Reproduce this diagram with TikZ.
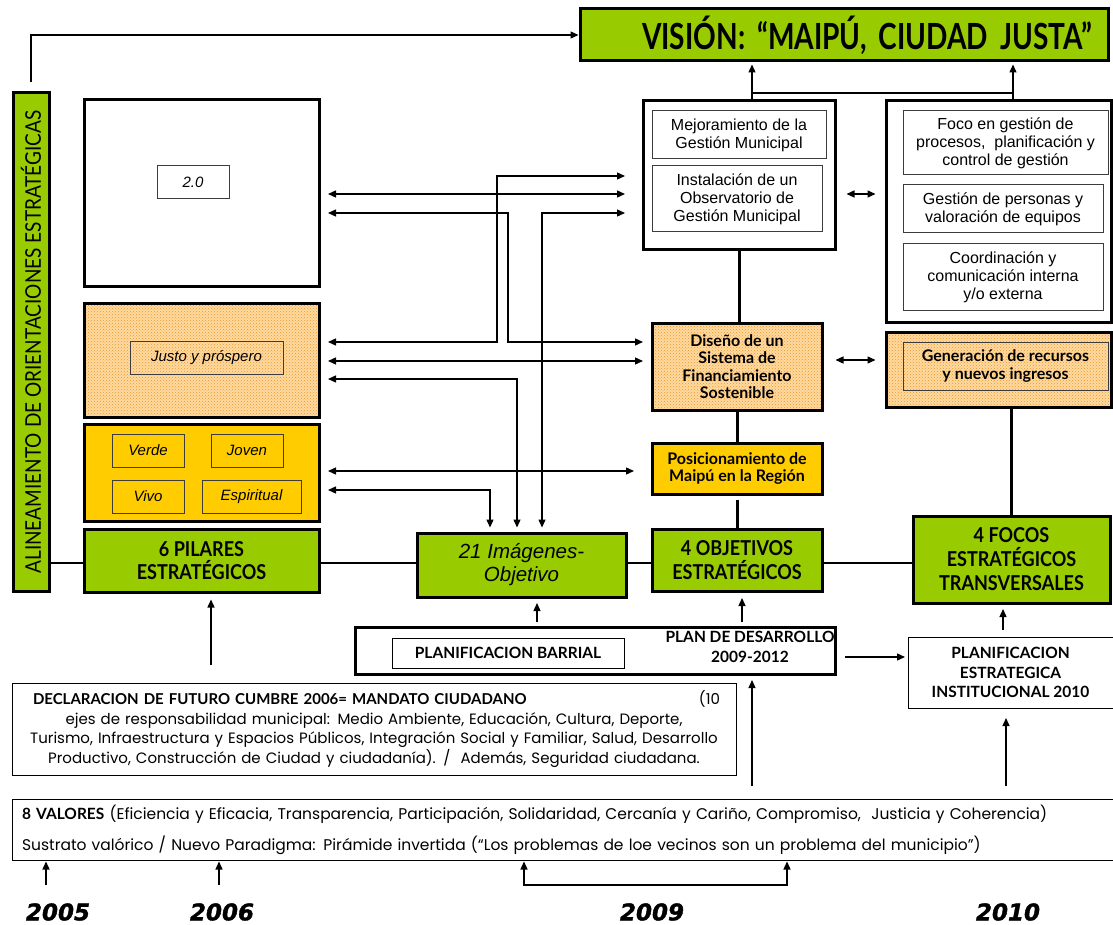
\documentclass[tikz,border=0pt]{standalone}
\usepackage{fontspec}
\usepackage{graphicx}
\setmainfont{Liberation Sans}
\newfontfamily\tw[FakeStretch=0.88]{Lato}
\newfontfamily\twv[FakeStretch=0.78]{Lato}
\newfontfamily\twn{Lato}
\newfontfamily\cg{Poppins}
\newfontfamily\yr[BoldItalicFeatures={FakeBold=1.5}]{DejaVu Sans}
\usetikzlibrary{arrows.meta,patterns}
\definecolor{vgreen}{RGB}{153,204,0}
\definecolor{vyellow}{RGB}{255,204,0}
\definecolor{dotorange}{RGB}{240,150,40}
\definecolor{dotbg}{RGB}{255,218,160}
\definecolor{inline}{RGB}{60,60,60}
\newcommand{\fsz}[2]{\fontsize{#1}{#2}\selectfont}

\begin{document}
\begin{tikzpicture}[x=1pt, y=-1pt, >={Triangle[length=8pt,width=7pt]},
	fat/.style={draw, line width=3pt, inner sep=0pt, align=center},
	greenbox/.style={fat, fill=vgreen},
	yelbox/.style={fat, fill=vyellow},
	dotbox/.style={fat, preaction={fill=dotbg}, pattern=crosshatch dots, pattern color=dotorange},
	box/.style={draw, line width=1pt, inner sep=0pt, align=center},
	ibox/.style={box, draw=inline},
	conn/.style={line width=1.3pt},
	bar/.style={line width=3pt},
	arial/.style={font=\fsz{16}{18}},
	ital/.style={font=\itshape\fsz{15}{18}},
	twtxt/.style={font=\twn\bfseries\fsz{16}{17.5}},
	caps/.style={font=\twn\bfseries\fsz{15.5}{20}},
	title/.style={font=\tw\bfseries\fsz{20.5}{23.5}}]
	\useasboundingbox (0,0) rectangle (1113,925);

	%vision and left bar
	\node[greenbox, minimum width=528pt, minimum height=52pt, text width=496pt, inner xsep=16pt, align=right, font=\twv\bfseries\fsz{36}{40}] (vis) at (844,35) {VISIÓN: “MAIPÚ, CIUDAD JUSTA”};
	\node[greenbox, minimum width=36pt, minimum height=498pt, font=\tw\fsz{21.6}{24}] (ali) at (31,342) {\rotatebox{90}{ALINEAMIENTO DE ORIENTACIONES ESTRATÉGICAS}};

	%pilares column
	\node[fat, minimum width=235pt, minimum height=186pt] (b20) at (201.5,193) {};
	\node[ibox, minimum width=72pt, minimum height=33pt, ital] (i20) at (193,182.5) {2.0};
	\node[dotbox, minimum width=235pt, minimum height=114pt] (bjus) at (201.5,360) {};
	\node[ibox, minimum width=153pt, minimum height=33pt, ital] (ijus) at (206.5,357.5) {Justo y próspero};
	\node[yelbox, minimum width=235pt, minimum height=97pt] (bvvj) at (201.5,472.5) {};
	\node[ibox, minimum width=72pt, minimum height=33pt, ital] (verde) at (148,450.5) {Verde};
	\node[ibox, minimum width=72pt, minimum height=33pt, ital] (joven) at (247,450.5) {Joven};
	\node[ibox, minimum width=72pt, minimum height=33pt, ital] (vivo) at (148,496.5) {Vivo};
	\node[ibox, minimum width=99pt, minimum height=33pt, ital] (espi) at (251.5,496.5) {Espiritual};
	\node[greenbox, minimum width=235pt, minimum height=63pt, title] (pil) at (201.5,560.5) {6 PILARES\\ESTRATÉGICOS};

	%middle row
	\node[greenbox, minimum width=209pt, minimum height=64pt, font=\itshape\fsz{20.5}{23}] (img) at (521.5,565) {21 Imágenes-\\Objetivo};
	\node[greenbox, minimum width=170pt, minimum height=62pt, title] (obj) at (737,560) {4 OBJETIVOS\\ESTRATÉGICOS};
	\node[greenbox, minimum width=197pt, minimum height=87pt, font=\tw\bfseries\fsz{20.5}{24}] (foc) at (1011.5,559.5) {4 FOCOS\\ESTRATÉGICOS\\TRANSVERSALES};

	%objetivos column
	\node[fat, minimum width=192pt, minimum height=149pt] (mej) at (739,175.5) {};
	\node[ibox, minimum width=174pt, minimum height=48pt, arial] (m1) at (739,135) {Mejoramiento de la\\Gestión Municipal};
	\node[ibox, minimum width=170pt, minimum height=66pt, arial] (m2) at (737,199) {Instalación de un\\Observatorio de\\Gestión Municipal};
	\node[dotbox, minimum width=170pt, minimum height=87pt, twtxt] (dis) at (737,366.5) {Diseño de un\\Sistema de\\Financiamiento\\Sostenible};
	\node[yelbox, minimum width=170pt, minimum height=51pt, twtxt] (pos) at (737,468.5) {Posicionamiento de\\Maipú en la Región};

	%focos column
	\node[fat, minimum width=225pt, minimum height=221pt] (fgr) at (998.5,211.5) {};
	\node[ibox, minimum width=205pt, minimum height=64pt, arial] (f1) at (1005.5,143) {Foco en gestión de\\procesos,\ \ planificación y\\control de gestión};
	\node[ibox, minimum width=200pt, minimum height=48pt, arial] (f2) at (1003,209) {Gestión de personas y\\valoración de equipos};
	\node[ibox, minimum width=200pt, minimum height=66pt, arial] (f3) at (1003,277) {Coordinación y\\comunicación interna\\y/o externa};
	\node[dotbox, minimum width=225pt, minimum height=75pt] (gen) at (998.5,369.5) {};
	\node[ibox, minimum width=205pt, minimum height=48pt, twtxt] (gi) at (1005.5,366) {Generación de recursos\\y nuevos ingresos};

	%planning boxes
	\node[fat, minimum width=480pt, minimum height=47pt] (plan) at (595,650.5) {};
	\node[box, minimum width=232pt, minimum height=30pt, caps] (pb) at (508,653) {PLANIFICACION BARRIAL};
	\node[caps, align=center] (plant) at (750,647) {PLAN DE DESARROLLO\\2009-2012};
	\node[box, minimum width=205pt, minimum height=71pt, font=\twn\bfseries\fsz{15.5}{19.5}] (pei) at (1010.5,672.5) {PLANIFICACION\\ESTRATEGICA\\INSTITUCIONAL 2010};
	\node[box, minimum width=724pt, minimum height=92pt, text width=692pt, inner xsep=16pt, font=\cg\fsz{15}{19.7}] (dec) at (374,729) {\hspace*{5pt}{\twn\bfseries\fsz{15}{19.7}DECLARACION DE FUTURO CUMBRE 2006= MANDATO CIUDADANO}\hfill(10\hspace*{16pt}\\ejes de responsabilidad municipal: Medio Ambiente, Educación, Cultura, Deporte,\\Turismo, Infraestructura y Espacios Públicos, Integración Social y Familiar, Salud, Desarrollo\\Productivo, Construcción de Ciudad y ciudadanía). /\ \ Además, Seguridad ciudadana.};
	\node[box, minimum width=1101pt, minimum height=61pt, text width=1081pt, inner xsep=10pt, align=left, font=\cg\fsz{15.5}{31}] (val) at (562.5,829.5) {{\twn\bfseries\fsz{15.5}{31}8 VALORES} (Eficiencia y Eficacia, Transparencia, Participación, Solidaridad, Cercanía y Cariño, Compromiso,\ \ Justicia y Coherencia)\\Sustrato valórico / Nuevo Paradigma: Pirámide invertida (“Los problemas de loe vecinos son un problema del municipio”)};

	%years
	\node[font=\yr\bfseries\itshape\fsz{23}{23}] (y05) at (58,912) {2005};
	\node[font=\yr\bfseries\itshape\fsz{23}{23}] (y06) at (222,912) {2006};
	\node[font=\yr\bfseries\itshape\fsz{23}{23}] (y09) at (652,912) {2009};
	\node[font=\yr\bfseries\itshape\fsz{23}{23}] (y10) at (1008,912) {2010};
	\coordinate (c05) at (46,885);
	\coordinate (c06) at (219,885);
	\coordinate (c6p) at (211,665);

	%top links
	\draw[conn,->,shorten <=9pt] (ali.north) |- (vis.west);
	\coordinate (tl) at (752,93);
	\coordinate (tr) at (1013,93);
	\draw[conn] (mej.north -| tl) -- (tl) -- (tr) -- (fgr.north -| tr);
	\draw[conn,->,shorten >=2pt] (tl) -- (vis.south -| tl);
	\draw[conn,->,shorten >=2pt] (tr) -- (vis.south -| tr);
	\draw[conn,<->,shorten <=10pt,shorten >=9pt] (mej.east |- 0,194) -- (fgr.west |- 0,194);
	\draw[conn,<->,shorten <=12pt,shorten >=9pt] (dis.east |- 0,360) -- (gen.west |- 0,360);

	%crossing arrows
	\draw[conn,<->,shorten <=16.5pt,shorten >=7.5pt] (mej.west |- 0,176) -| (497,342) -- (bjus.east |- 0,342);
	\draw[conn,<->,shorten <=7.5pt,shorten >=16.5pt] (b20.east |- 0,194) -- (mej.west |- 0,194);
	\draw[conn,<->,shorten <=7.5pt,shorten >=7.5pt] (b20.east |- 0,213) -| (508,342) -- (dis.west |- 0,342);
	\draw[conn,<->,shorten <=16.5pt,shorten >=4pt] (mej.west |- 0,213) -| (img.north -| 542,0);
	\draw[conn,<->,shorten <=7.5pt,shorten >=7.5pt] (bjus.east |- 0,361) -- (dis.west |- 0,361);
	\draw[conn,<->,shorten <=7.5pt,shorten >=4pt] (bjus.east |- 0,379) -| (img.north -| 517,0);
	\draw[conn,<->,shorten <=7.5pt,shorten >=16.5pt] (bvvj.east |- 0,471) -- (pos.west |- 0,471);
	\draw[conn,<->,shorten <=7.5pt,shorten >=4pt] (bvvj.east |- 0,490) -| (img.north -| 490,0);

	%main row line
	\draw[conn] (ali.east |- 0,563) -- (pil.west |- 0,563);
	\draw[conn] (pil.east |- 0,563) -- (img.west |- 0,563);
	\draw[conn] (img.east |- 0,563) -- (obj.west |- 0,563);
	\draw[conn] (obj.east |- 0,563) -- (foc.west |- 0,563);

	%vertical bars
	\draw[bar] (mej.south) -- (mej.south |- dis.north);
	\draw[bar] (dis.south) -- (dis.south |- pos.north);
	\draw[bar,shorten <=4pt] (pos.south) -- (pos.south |- obj.north);
	\draw[bar] (foc.north |- gen.south) -- (foc.north);

	%upward arrows
	\draw[conn,->,shorten >=6pt] (c6p) -- (pil.south -| c6p);
	\draw[conn,->,shorten <=3.5pt,shorten >=4.5pt] (plan.north -| 537,0) -- (img.south -| 537,0);
	\draw[conn,->,shorten <=3.5pt,shorten >=5.5pt] (plan.north -| 742,0) -- (obj.south -| 742,0);
	\draw[conn,->,shorten <=8.5pt,shorten >=2.5pt] (plan.east |- 0,657) -- (pei.west |- 0,657);
	\draw[conn,->,shorten <=6.5pt,shorten >=4.5pt] (pei.north -| 1003,0) -- (foc.south -| 1003,0);
	\draw[conn,->,shorten <=12.5pt,shorten >=4.5pt] (val.north -| 752,0) -- (plan.south -| 752,0);
	\draw[conn,->,shorten <=12.5pt,shorten >=9.5pt] (val.north -| 1006,0) -- (pei.south -| 1006,0);
	\draw[conn,->,shorten >=1pt] (c05) -- (val.south -| c05);
	\draw[conn,->,shorten >=1pt] (c06) -- (val.south -| c06);
	\draw[conn,<->,shorten <=1pt,shorten >=1pt] (val.south -| 524,0) |- (787,885) -- (val.south -| 787,0);
\end{tikzpicture}
\end{document}
